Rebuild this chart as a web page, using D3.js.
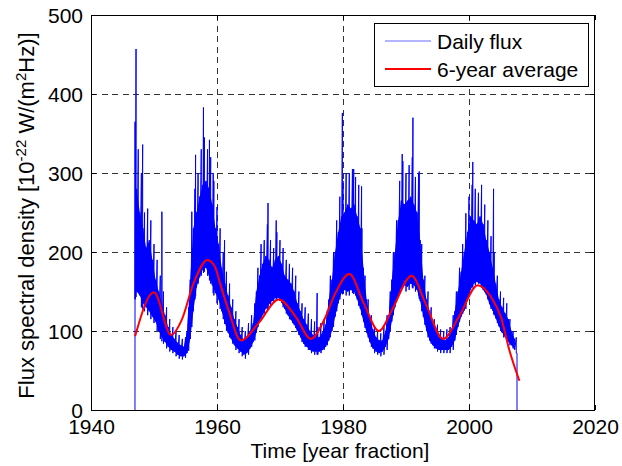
<!DOCTYPE html>
<html>
<head>
<meta charset="utf-8">
<script src="https://cdn.jsdelivr.net/npm/d3@7"></script>
<style>
  html, body { margin: 0; padding: 0; background: #fff; }
  svg { display: block; font-family: "Liberation Sans", Arial, sans-serif; }
</style>
</head>
<body>
<svg id="chart" width="622" height="466"></svg>
<script>
// ---- Data ----
const xTicks = [1940, 1960, 1980, 2000, 2020];
const yTicks = [0, 100, 200, 300, 400, 500];

// Daily flux traced as a min/max envelope on the half years...
const fluxYears = [
  1947.0,1947.5,1948.0,1948.5,1949.0,1949.5,1950.0,1950.5,1951.0,1951.5,
  1952.0,1952.5,1953.0,1953.5,1954.0,1954.5,1955.0,1955.5,1956.0,1956.5,
  1957.0,1957.5,1958.0,1958.5,1959.0,1959.5,1960.0,1960.5,1961.0,1961.5,
  1962.0,1962.5,1963.0,1963.5,1964.0,1964.5,1965.0,1965.5,1966.0,1966.5,
  1967.0,1967.5,1968.0,1968.5,1969.0,1969.5,1970.0,1970.5,1971.0,1971.5,
  1972.0,1972.5,1973.0,1973.5,1974.0,1974.5,1975.0,1975.5,1976.0,1976.5,
  1977.0,1977.5,1978.0,1978.5,1979.0,1979.5,1980.0,1980.5,1981.0,1981.5,
  1982.0,1982.5,1983.0,1983.5,1984.0,1984.5,1985.0,1985.5,1986.0,1986.5,
  1987.0,1987.5,1988.0,1988.5,1989.0,1989.5,1990.0,1990.5,1991.0,1991.5,
  1992.0,1992.5,1993.0,1993.5,1994.0,1994.5,1995.0,1995.5,1996.0,1996.5,
  1997.0,1997.5,1998.0,1998.5,1999.0,1999.5,2000.0,2000.5,2001.0,2001.5,
  2002.0,2002.5,2003.0,2003.5,2004.0,2004.5,2005.0,2005.5,2006.0,2006.5,
  2007.0,2007.5
];
const fluxHigh = [
  365,330,300,250,255,240,210,190,170,150,
  130,115,105,100,95,90,92,130,220,280,
  300,330,345,330,320,290,255,230,200,175,
  160,140,125,115,105,100,110,120,135,180,
  210,215,235,215,205,225,215,205,190,185,
  180,170,150,135,130,122,115,112,105,110,
  115,126,170,200,240,270,290,300,300,305,
  295,285,230,170,140,120,105,100,97,105,
  120,150,200,240,290,315,300,310,320,295,
  300,210,170,150,130,115,108,102,100,102,
  105,120,150,180,210,240,270,285,280,275,
  285,260,240,220,200,170,150,142,135,115,
  100,92
];
const fluxLow = [
  140,150,130,125,120,115,110,100,90,84,
  78,74,72,68,65,64,66,75,105,140,
  160,170,175,170,160,145,135,128,115,100,
  92,84,76,72,68,65,70,80,88,105,
  115,122,128,132,136,140,138,130,122,115,
  110,104,95,86,80,76,72,70,70,72,
  76,82,92,105,125,140,148,145,145,148,
  145,132,120,104,92,80,72,70,68,70,
  76,100,120,138,148,155,150,152,155,150,
  145,125,108,92,84,78,74,72,72,72,
  72,76,95,112,122,128,145,155,158,160,
  155,150,140,128,120,110,100,92,88,82,
  78,72
];
// ...and on the quarter years in between
const fluxMidYears = [
  1947.25,1947.75,1948.25,1948.75,1949.25,1949.75,1950.25,1950.75,1951.25,1951.75,
  1952.25,1952.75,1953.25,1953.75,1954.25,1954.75,1955.25,1955.75,1956.25,1956.75,
  1957.25,1957.75,1958.25,1958.75,1959.25,1959.75,1960.25,1960.75,1961.25,1961.75,
  1962.25,1962.75,1963.25,1963.75,1964.25,1964.75,1965.25,1965.75,1966.25,1966.75,
  1967.25,1967.75,1968.25,1968.75,1969.25,1969.75,1970.25,1970.75,1971.25,1971.75,
  1972.25,1972.75,1973.25,1973.75,1974.25,1974.75,1975.25,1975.75,1976.25,1976.75,
  1977.25,1977.75,1978.25,1978.75,1979.25,1979.75,1980.25,1980.75,1981.25,1981.75,
  1982.25,1982.75,1983.25,1983.75,1984.25,1984.75,1985.25,1985.75,1986.25,1986.75,
  1987.25,1987.75,1988.25,1988.75,1989.25,1989.75,1990.25,1990.75,1991.25,1991.75,
  1992.25,1992.75,1993.25,1993.75,1994.25,1994.75,1995.25,1995.75,1996.25,1996.75,
  1997.25,1997.75,1998.25,1998.75,1999.25,1999.75,2000.25,2000.75,2001.25,2001.75,
  2002.25,2002.75,2003.25,2003.75,2004.25,2004.75,2005.25,2005.75,2006.25,2006.75,
  2007.25
];
const fluxMidHigh = [
  280,250,230,205,215,190,165,150,135,120,
  105,95,90,85,82,80,100,165,230,250,
  270,285,290,280,260,230,210,180,160,145,
  130,115,105,95,88,92,100,110,150,170,
  185,195,190,180,190,195,185,170,165,160,
  150,135,125,115,108,100,95,92,92,98,
  108,140,165,200,225,245,250,260,255,260,
  245,230,180,140,118,102,92,88,88,100,
  120,165,200,240,265,260,265,270,260,250,
  215,165,140,125,110,100,92,90,88,92,
  100,125,150,175,200,225,245,240,235,245,
  235,215,200,180,160,140,130,122,115,100,
  90
];
const fluxMidLow = [
  150,145,135,130,125,118,112,100,92,86,
  80,76,74,70,68,68,72,90,125,155,
  168,178,180,170,158,148,140,125,110,98,
  90,82,78,74,70,72,78,86,98,112,
  120,128,134,138,142,142,136,128,120,114,
  108,100,92,84,80,76,74,74,74,76,
  80,88,100,118,135,148,152,150,152,150,
  140,128,112,98,86,78,74,72,74,80,
  90,112,130,145,155,158,156,160,158,152,
  138,118,100,88,82,78,76,76,76,76,
  80,88,105,118,126,138,152,160,162,160,
  152,146,134,126,116,106,98,92,86,82,
  76
];
// Isolated daily peaks
const spikeYears  = [1947.15,1947.05,1948.2,1951.25,1956.0,1956.6,1957.85,1958.8,1959.4,1960.0,1961.2,1968.1,1969.4,1975.9,1979.9,1981.7,1982.95,1989.4,1991.1,1992.1,1999.5,2000.6,2003.9];
const spikeValues = [457,363,336,251,251,323,383,342,300,257,215,262,240,148,376,305,283,324,370,302,249,314,280];
// First and last records (data gaps drawn to zero)
const edgeYears  = [1946.98, 2007.62];
const edgeValues = [0, 0];

// 6-year running average
const avgYears = [1947.0,1950.0,1952.7,1954.4,1956.3,1958.5,1959.7,1960.5,1961.8,1963.8,1966.6,1969.8,1972.5,1974.9,1977.0,1978.8,1981.0,1983.3,1985.7,1987.8,1990.9,1993.1,1995.9,1998.4,2001.4,2003.5,2005.1,2006.4,2008.0];
const avgValues = [93.5,149,95,114,161,190,181,160,127,88,110,140,118,90,114,148,172,135,100,127,170,135,90,118,158,143,117,76,37];

const seriesNames = ["Daily flux", "6-year average"];
const seriesColors = ["#0000ff", "#ff0000"];

// ---- Layout ----
const svg = d3.select("#chart");
const m = { left: 91, right: 595, top: 15, bottom: 410 };
const x = d3.scaleLinear().domain([1940, 2020]).range([m.left, m.right]);
const y = d3.scaleLinear().domain([0, 500]).range([m.bottom, m.top]);
const FS = 21;

svg.append("rect").attr("width", 622).attr("height", 466).attr("fill", "#fff");

// grid
const grid = svg.append("g").attr("stroke", "#333").attr("stroke-width", 1)
  .attr("stroke-dasharray", "6,4.5").attr("shape-rendering", "crispEdges");
xTicks.slice(1, -1).forEach(t => grid.append("line")
  .attr("x1", Math.round(x(t)) + 0.5).attr("x2", Math.round(x(t)) + 0.5)
  .attr("y1", m.top).attr("y2", m.bottom));
yTicks.slice(1, -1).forEach(t => grid.append("line")
  .attr("y1", Math.round(y(t)) + 0.5).attr("y2", Math.round(y(t)) + 0.5)
  .attr("x1", m.left).attr("x2", m.right));

// clip
svg.append("clipPath").attr("id", "clip").append("rect")
  .attr("x", m.left).attr("y", m.top).attr("width", m.right - m.left).attr("height", m.bottom - m.top);
const plot = svg.append("g").attr("clip-path", "url(#clip)");

// daily flux: solid core between the quarter-year readings
const mid = fluxMidYears.map((t, i) => ({ t, hi: fluxMidHigh[i], lo: fluxMidLow[i] }));
plot.append("path").datum(mid)
  .attr("fill", seriesColors[0]).attr("stroke", "none")
  .attr("d", d3.area().x(d => x(d.t)).y0(d => y(d.lo)).y1(d => y(d.hi)));

// daily flux: min/max trace through all readings
const lowAt = d3.scaleLinear().domain(fluxYears).range(fluxLow).clamp(true);
let pts = [];
fluxYears.forEach((t, i) => { pts.push([t, fluxHigh[i], 0]); pts.push([t, fluxLow[i], 1]); });
fluxMidYears.forEach((t, i) => { pts.push([t, fluxMidHigh[i], 0]); pts.push([t, fluxMidLow[i], 1]); });
spikeYears.forEach((t, i) => { pts.push([t, spikeValues[i], 0]); pts.push([t, lowAt(t), 1]); });
pts.sort((a, b) => a[0] - b[0] || a[2] - b[2]);
pts.unshift([edgeYears[0], edgeValues[0]]);
pts.push([edgeYears[1], fluxLow[fluxLow.length - 1]]);
pts.push([edgeYears[1], edgeValues[1]]);
plot.append("path").datum(pts)
  .attr("fill", "none").attr("stroke", seriesColors[0]).attr("stroke-width", 1)
  .attr("d", d3.line().x(d => x(d[0])).y(d => y(d[1])));

// 6-year average
plot.append("path").datum(avgYears.map((t, i) => [t, avgValues[i]]))
  .attr("fill", "none").attr("stroke", seriesColors[1]).attr("stroke-width", 2)
  .attr("stroke-linejoin", "round")
  .attr("d", d3.line().x(d => x(d[0])).y(d => y(d[1])).curve(d3.curveMonotoneX));

// axes box
svg.append("rect").attr("x", m.left + 0.5).attr("y", m.top + 0.5)
  .attr("width", m.right - m.left - 1).attr("height", m.bottom - m.top)
  .attr("fill", "none").attr("stroke", "#000").attr("stroke-width", 1)
  .attr("shape-rendering", "crispEdges");

// axes with inward ticks
const axB = svg.append("g").attr("transform", `translate(0,${m.bottom})`)
  .call(d3.axisBottom(x).tickValues(xTicks).tickFormat(d3.format("d")).tickSizeInner(-5).tickSizeOuter(0).tickPadding(10));
const axT = svg.append("g").attr("transform", `translate(0,${m.top})`)
  .call(d3.axisTop(x).tickValues(xTicks).tickFormat("").tickSizeInner(-5).tickSizeOuter(0));
const axL = svg.append("g").attr("transform", `translate(${m.left},0)`)
  .call(d3.axisLeft(y).tickValues(yTicks).tickSizeInner(-5).tickSizeOuter(0).tickPadding(8));
const axR = svg.append("g").attr("transform", `translate(${m.right},0)`)
  .call(d3.axisRight(y).tickValues(yTicks).tickFormat("").tickSizeInner(-5).tickSizeOuter(0));
[axB, axT, axL, axR].forEach(a => {
  a.select(".domain").remove();
  a.selectAll("text").attr("font-size", FS).attr("fill", "#000")
    .attr("font-family", "Liberation Sans, Arial, sans-serif");
  a.selectAll("line").attr("stroke", "#000");
});
axB.selectAll("text").attr("dy", null).attr("y", 24);
axL.selectAll("text").attr("dy", "0.36em");

// axis titles
svg.append("text").attr("x", (m.left + m.right) / 2 - 3).attr("y", 458)
  .attr("text-anchor", "middle").attr("font-size", FS).text("Time [year fraction]");

const yl = svg.append("text").attr("transform", `translate(34,${(m.top + m.bottom) / 2 + 3}) rotate(-90)`)
  .attr("text-anchor", "middle").attr("font-size", 22);
yl.append("tspan").text("Flux spectral density [10");
yl.append("tspan").attr("font-size", 15).attr("dy", -8).text("-22");
yl.append("tspan").attr("dy", 8).text(" W/(m");
yl.append("tspan").attr("font-size", 15).attr("dy", -8).text("2");
yl.append("tspan").attr("dy", 8).text("Hz)]");

// legend
const lg = svg.append("g");
lg.append("rect").attr("x", 374.5).attr("y", 23.5).attr("width", 214).attr("height", 63)
  .attr("fill", "#fff").attr("stroke", "#000").attr("stroke-width", 1);
const rowsY = [41, 69];
seriesNames.forEach((name, i) => {
  lg.append("line").attr("x1", 385).attr("x2", 431).attr("y1", rowsY[i]).attr("y2", rowsY[i])
    .attr("stroke", i === 0 ? "#6b6bff" : seriesColors[1]).attr("stroke-width", i === 0 ? 1.2 : 2);
  lg.append("text").attr("x", 437).attr("y", rowsY[i]).attr("dy", "0.36em")
    .attr("font-size", FS).text(name);
});
</script>
</body>
</html>
